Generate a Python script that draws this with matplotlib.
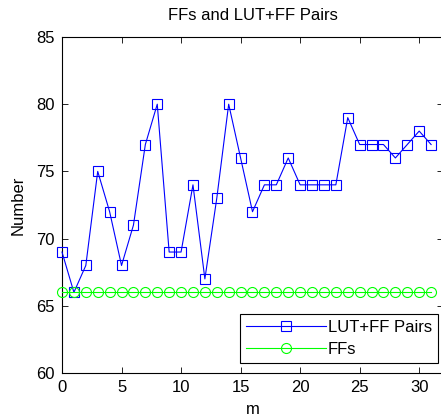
import matplotlib
matplotlib.use("Agg")
import matplotlib.pyplot as plt
import numpy as np

m = list(range(32))
lut_ff_pairs = [69, 66, 68, 75, 72, 68, 71, 77, 80, 69, 69, 74, 67, 73, 80, 76,
                72, 74, 74, 76, 74, 74, 74, 74, 79, 77, 77, 77, 76, 77, 78, 77]
ffs = [66] * 32
xticks = [0, 5, 10, 15, 20, 25, 30]
yticks = [60, 65, 70, 75, 80, 85]

FS = 12
plt.rcParams['font.family'] = ['Liberation Sans', 'DejaVu Sans']
fig = plt.figure(figsize=(4.41, 4.19), dpi=100)
ax = fig.add_axes([62/441, 46/419, 381/441, 336/419])

ax.plot(m, lut_ff_pairs, color=(0, 0, 1), lw=0.8, marker='s', markersize=6.8,
        markerfacecolor='none', markeredgecolor=(0, 0, 1), markeredgewidth=0.8,
        label='LUT+FF Pairs', clip_on=False, zorder=3)
ax.plot(m, ffs, color=(0, 1, 0), lw=0.8, marker='o', markersize=7.2,
        markerfacecolor='none', markeredgecolor=(0, 1, 0), markeredgewidth=0.8,
        label='FFs', clip_on=False, zorder=3)

ax.set_xlim(0, 32)
ax.set_ylim(60, 85)
ax.set_xticks(xticks)
ax.set_yticks(yticks)
ax.tick_params(direction='in', top=True, right=True, labelsize=FS, length=4, width=0.6, pad=5)
for s in ax.spines.values():
    s.set_linewidth(0.8)
ax.set_title('FFs and LUT+FF Pairs', fontsize=FS, pad=12)
ax.set_xlabel('m', fontsize=FS, labelpad=5)
ax.set_ylabel('Number', fontsize=FS, labelpad=8)

leg = ax.legend(loc='lower right', bbox_to_anchor=(376/381, 10/336), fontsize=FS,
                fancybox=False, framealpha=1, edgecolor='black', handlelength=4.8,
                handletextpad=0.1, borderpad=0.38, labelspacing=0.4, borderaxespad=0)
leg.get_frame().set_linewidth(0.8)

fig.savefig('out.png', dpi=100)
